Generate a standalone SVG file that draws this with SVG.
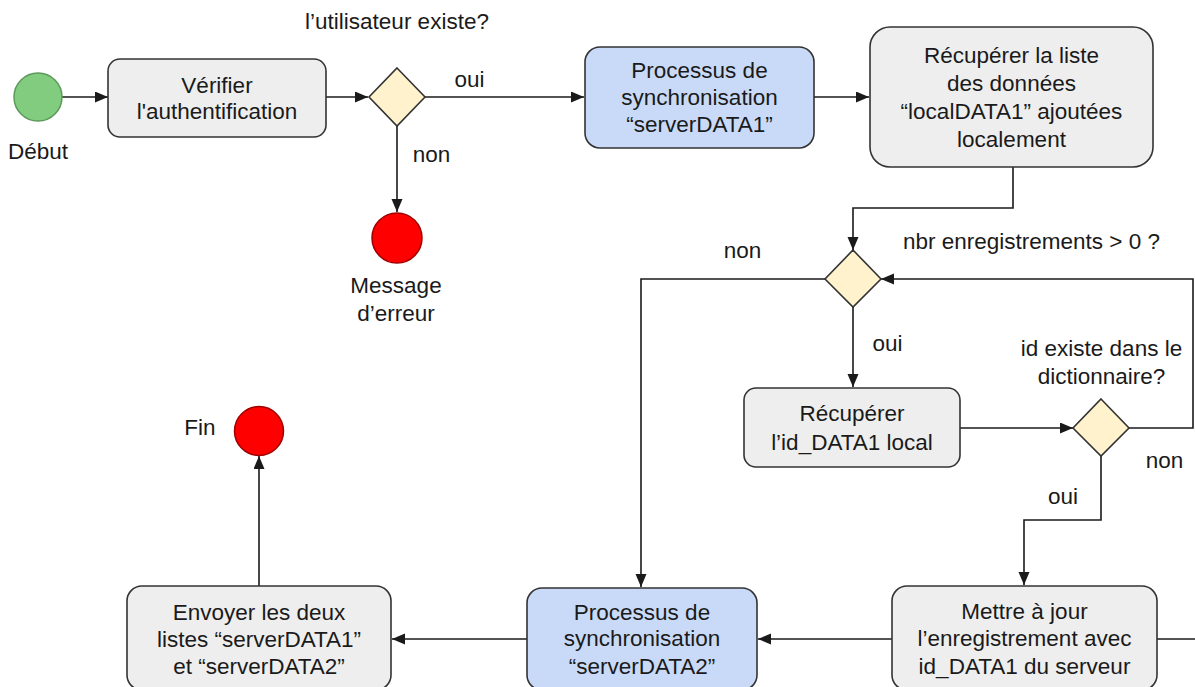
<svg xmlns="http://www.w3.org/2000/svg" width="1195" height="687" viewBox="0 0 1195 687">
<defs>
<marker id="arr" markerUnits="userSpaceOnUse" markerWidth="14" markerHeight="12" refX="13" refY="5.5" orient="auto"><path d="M0,0 L13,5.5 L0,11 z" fill="#1a1a1a"/></marker>
<style>
text{font-family:"Liberation Sans",Arial,sans-serif;font-size:22.5px;fill:#1a1a1a;text-anchor:middle}
.box{fill:#eeeeee;stroke:#333;stroke-width:1.6}
.blue{fill:#c9daf8;stroke:#333;stroke-width:1.6}
.dia{fill:#fff2cc;stroke:#333;stroke-width:1.6}
.start{fill:#82cc7f;stroke:#5b9a58;stroke-width:1.5}
.end{fill:#ff0000;stroke:#a00000;stroke-width:1.5}
.c{fill:none;stroke:#1a1a1a;stroke-width:1.6}
.a{marker-end:url(#arr)}
</style>
</defs>
<rect width="1195" height="687" fill="#ffffff"/>
<g id="connectors">
<path class="c a" d="M62,97 H108"/>
<path class="c a" d="M326,97 H368"/>
<path class="c a" d="M425,97 H584"/>
<path class="c a" d="M397,126 V212"/>
<path class="c a" d="M814,97 H869"/>
<path class="c a" d="M1013,167 V208 H853 V250"/>
<path class="c a" d="M825,279 H641 V587"/>
<path class="c a" d="M853,307 V387"/>
<path class="c a" d="M960,428 H1073"/>
<path class="c a" d="M1129,428 H1193 V279 H881"/>
<path class="c a" d="M1101,456 V520 H1024 V585"/>
<path class="c" d="M1157,639 H1196"/>
<path class="c a" d="M892,639 H758"/>
<path class="c a" d="M527,639 H392"/>
<path class="c a" d="M259,586 V456"/>
</g>
<g id="debut">
<circle class="start" cx="38" cy="97" r="24"/>
<text x="38" y="159">Début</text>
</g>
<g id="verifier">
<rect class="box" x="108" y="59" width="218" height="78" rx="12"/>
<text x="217" y="92.5">Vérifier</text>
<text x="217" y="118.5">l'authentification</text>
</g>
<g id="decision-utilisateur">
<polygon class="dia" points="397,68 425,97 397,126 369,97"/>
<text x="397" y="29">l’utilisateur existe?</text>
<text x="469.5" y="87">oui</text>
<text x="431.5" y="161.5">non</text>
</g>
<g id="erreur">
<circle class="end" cx="397" cy="238" r="25"/>
<text x="396" y="293">Message</text>
<text x="396" y="321">d’erreur</text>
</g>
<g id="processus1">
<rect class="blue" x="585" y="47" width="229" height="101" rx="15"/>
<text x="699.5" y="77.5">Processus de</text>
<text x="699.5" y="104.5">synchronisation</text>
<text x="699.5" y="131.5">“serverDATA1”</text>
</g>
<g id="recuperer-liste">
<rect class="box" x="870" y="27" width="283" height="140" rx="20"/>
<text x="1011.5" y="62.5">Récupérer la liste</text>
<text x="1011.5" y="90.5">des données</text>
<text x="1011.5" y="119">“localDATA1” ajoutées</text>
<text x="1011.5" y="147">localement</text>
</g>
<g id="decision-nbr">
<polygon class="dia" points="853,250 881,279 853,307 825,279"/>
<text x="1031.5" y="248.5">nbr enregistrements &gt; 0 ?</text>
<text x="742.5" y="257.5">non</text>
<text x="887.5" y="351">oui</text>
</g>
<g id="recuperer-id">
<rect class="box" x="744" y="388" width="216" height="79" rx="12"/>
<text x="852" y="421">Récupérer</text>
<text x="852" y="449.5">l’id_DATA1 local</text>
</g>
<g id="decision-id">
<polygon class="dia" points="1101,399 1129,428 1101,456 1073,428"/>
<text x="1101.5" y="356">id existe dans le</text>
<text x="1101.5" y="383.5">dictionnaire?</text>
<text x="1164.5" y="467.5">non</text>
<text x="1063" y="504">oui</text>
</g>
<g id="mettre-a-jour">
<rect class="box" x="892" y="586" width="265" height="104" rx="15"/>
<text x="1024.5" y="618.5">Mettre à jour</text>
<text x="1024.5" y="645.5">l’enregistrement avec</text>
<text x="1024.5" y="673.5">id_DATA1 du serveur</text>
</g>
<g id="processus2">
<rect class="blue" x="527" y="588" width="230" height="102" rx="15"/>
<text x="642" y="619.5">Processus de</text>
<text x="642" y="646">synchronisation</text>
<text x="642" y="673.5">“serverDATA2”</text>
</g>
<g id="envoyer">
<rect class="box" x="127" y="586" width="264" height="104" rx="15"/>
<text x="259" y="619.5">Envoyer les deux</text>
<text x="259" y="647">listes “serverDATA1”</text>
<text x="259" y="673.5">et “serverDATA2”</text>
</g>
<g id="fin">
<circle class="end" cx="259" cy="431" r="24.5"/>
<text x="200" y="435">Fin</text>
</g>
</svg>
